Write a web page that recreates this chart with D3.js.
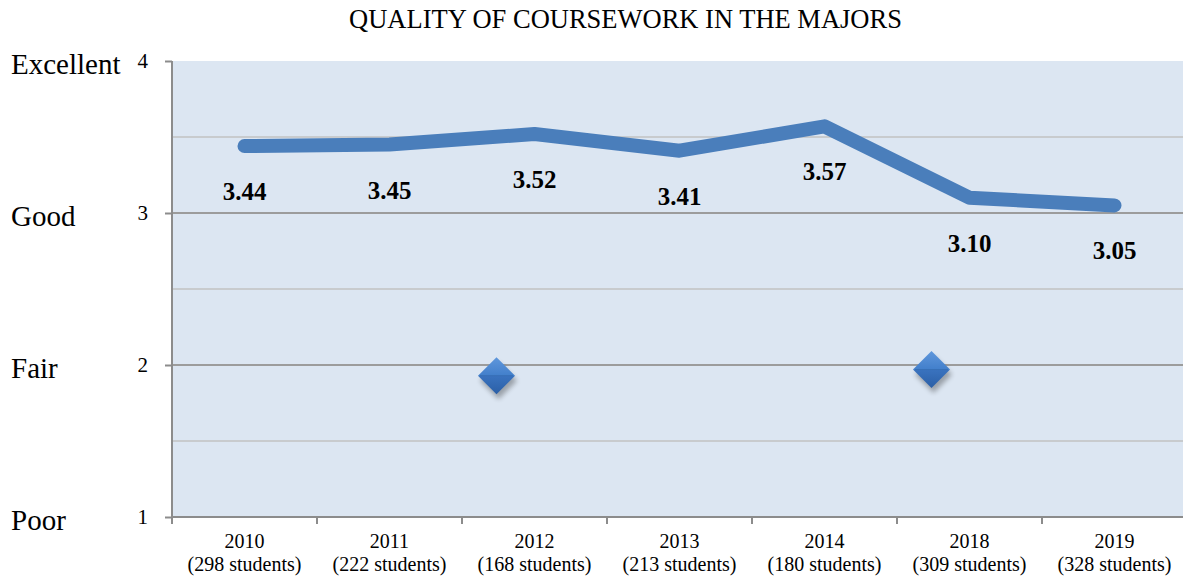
<!DOCTYPE html>
<html>
<head>
<meta charset="utf-8">
<script src="https://cdn.jsdelivr.net/npm/d3@7"></script>
<style>
  body { margin: 0; background: #fff; }
  svg text { font-family: "Times New Roman", "Liberation Serif", Times, "DejaVu Serif", serif; fill: #000; }
</style>
</head>
<body>
<div id="chart"></div>
<script>
// data
let years = ['2010', '2011', '2012', '2013', '2014', '2018', '2019'];
let students = ['(298 students)', '(222 students)', '(168 students)', '(213 students)',
    '(180 students)', '(309 students)', '(328 students)'];
let ratings = [3.44, 3.45, 3.52, 3.41, 3.57, 3.10, 3.05];
let markerYears = ['2012', '2018'];
let markerValues = [1.93, 1.97];
let qualityLabels = ['Poor', 'Fair', 'Good', 'Excellent'];
let yTicks = [1, 2, 3, 4];
let gridLines = [1.5, 2, 2.5, 3, 3.5];

let serif = '"Times New Roman", "Liberation Serif", Times, "DejaVu Serif", serif';

let width = 1183,
    height = 580,
    margin = { top: 61, right: -4, bottom: 63, left: 172 };

let svg = d3.select('#chart').append('svg')
    .attr('width', width)
    .attr('height', height)
    .style('font-family', serif);

let x = d3.scaleBand()
    .domain(years)
    .range([margin.left, width - margin.right]);

let y = d3.scaleLinear()
    .domain([1, 4])
    .range([height - margin.bottom, margin.top]);

let defs = svg.append('defs');

// diamond fill: light top face, darker bottom face
let grad = defs.append('linearGradient')
    .attr('id', 'diamondFill')
    .attr('x1', 0).attr('y1', 0).attr('x2', 0).attr('y2', 1);
grad.append('stop').attr('offset', '0%').attr('stop-color', '#5f97dc');
grad.append('stop').attr('offset', '50%').attr('stop-color', '#427fcb');
grad.append('stop').attr('offset', '50%').attr('stop-color', '#3a73bf');
grad.append('stop').attr('offset', '100%').attr('stop-color', '#2b5fa6');

let shadow = defs.append('filter')
    .attr('id', 'shadow')
    .attr('x', '-50%').attr('y', '-50%')
    .attr('width', '200%').attr('height', '200%');
shadow.append('feGaussianBlur').attr('stdDeviation', 2.5);

// plot area background
svg.append('rect')
    .attr('x', margin.left)
    .attr('y', y(4))
    .attr('width', width - margin.left)
    .attr('height', y(1) - y(4))
    .attr('fill', '#dce6f2');

// horizontal grid lines
svg.append('g')
    .selectAll('line')
    .data(gridLines)
    .enter().append('line')
    .attr('x1', margin.left)
    .attr('x2', width)
    .attr('y1', d => y(d))
    .attr('y2', d => y(d))
    .attr('stroke', d => Number.isInteger(d) ? '#9c9c9c' : '#c2c2c2')
    .attr('stroke-width', d => Number.isInteger(d) ? 2 : 1.5);

// y axis with numeric ticks
let yAxis = svg.append('g')
    .attr('transform', 'translate(' + margin.left + ',0)')
    .call(d3.axisLeft(y)
        .tickValues(yTicks)
        .tickFormat(d3.format('d'))
        .tickSize(7)
        .tickSizeOuter(0)
        .tickPadding(17));
yAxis.attr('font-family', null).attr('font-size', null);
yAxis.select('.domain')
    .attr('stroke', '#8c8c8c')
    .attr('stroke-width', 2)
    .attr('d', 'M0,' + y(4) + 'V' + (y(1) + 7));
yAxis.selectAll('.tick line').attr('stroke', '#8c8c8c').attr('stroke-width', 2);
yAxis.selectAll('.tick text')
    .style('font-family', serif)
    .style('font-size', '21px')
    .attr('fill', '#000');

// word labels for the rating scale
svg.append('g')
    .selectAll('text')
    .data(qualityLabels)
    .enter().append('text')
    .attr('x', 11)
    .attr('y', (d, i) => y(yTicks[i]))
    .attr('dy', '0.45em')
    .style('font-size', '29px')
    .text(d => d);

// x axis line and tick marks at category boundaries
svg.append('line')
    .attr('x1', margin.left)
    .attr('x2', width)
    .attr('y1', y(1))
    .attr('y2', y(1))
    .attr('stroke', '#8c8c8c')
    .attr('stroke-width', 2);

svg.append('g')
    .selectAll('line')
    .data(years)
    .enter().append('line')
    .attr('x1', d => x(d))
    .attr('x2', d => x(d))
    .attr('y1', y(1))
    .attr('y2', y(1) + 7)
    .attr('stroke', '#8c8c8c')
    .attr('stroke-width', 2);

// category labels, two lines each
let xLabels = svg.append('g')
    .selectAll('text')
    .data(years)
    .enter().append('text')
    .attr('text-anchor', 'middle')
    .style('font-size', '20px');
xLabels.append('tspan')
    .attr('x', d => x(d) + x.bandwidth() / 2)
    .attr('y', y(1) + 31)
    .text(d => d);
xLabels.append('tspan')
    .attr('x', d => x(d) + x.bandwidth() / 2)
    .attr('y', y(1) + 54)
    .text((d, i) => students[i]);

// rating line
let line = d3.line()
    .x((d, i) => x(years[i]) + x.bandwidth() / 2)
    .y(d => y(d));

svg.append('path')
    .datum(ratings)
    .attr('d', line)
    .attr('fill', 'none')
    .attr('stroke', '#4a7ebb')
    .attr('stroke-width', 14)
    .attr('stroke-linecap', 'round')
    .attr('stroke-linejoin', 'round');

// value labels below the points
svg.append('g')
    .selectAll('text')
    .data(ratings)
    .enter().append('text')
    .attr('x', (d, i) => x(years[i]) + x.bandwidth() / 2)
    .attr('y', d => y(d) + 54)
    .attr('text-anchor', 'middle')
    .style('font-size', '25px')
    .style('font-weight', 'bold')
    .text(d => d.toFixed(2));

// diamond markers
let r = 18.5;
let diamond = 'M0,' + (-r) + 'L' + r + ',0L0,' + r + 'L' + (-r) + ',0Z';
let markers = svg.append('g')
    .selectAll('g')
    .data(markerValues)
    .enter().append('g')
    .attr('transform', (d, i) => 'translate(' +
        (x(markerYears[i]) + x.bandwidth() / 2 - 38) + ',' + y(d) + ')');
markers.append('path')
    .attr('d', diamond)
    .attr('transform', 'translate(2,5)')
    .attr('fill', '#000')
    .attr('opacity', 0.3)
    .attr('filter', 'url(#shadow)');
markers.append('path')
    .attr('d', diamond)
    .attr('fill', 'url(#diamondFill)');
markers.append('path')
    .attr('d', 'M' + (-r + 2) + ',0L' + (r - 2) + ',0')
    .attr('stroke', '#2c5e9e')
    .attr('stroke-width', 0.8)
    .attr('opacity', 0.6);

// title
svg.append('text')
    .attr('x', 625.5)
    .attr('y', 28)
    .attr('text-anchor', 'middle')
    .style('font-size', '26.5px')
    .text('QUALITY OF COURSEWORK IN THE MAJORS');
</script>
</body>
</html>
